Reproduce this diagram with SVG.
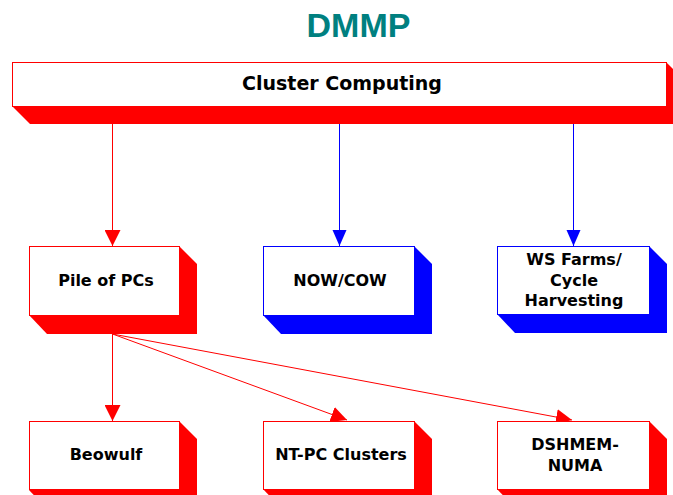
<svg xmlns="http://www.w3.org/2000/svg" width="673" height="495" viewBox="0 0 673 495">
<style>
.front{fill:#ffffff;stroke-width:1}
.r .front{stroke:#ff0000}
.b .front{stroke:#0000ff}
.r .sh{fill:#ff0000}
.b .sh{fill:#0000ff}
.lbl{font-family:"DejaVu Sans","Noto Sans",sans-serif;font-weight:bold;font-size:16px;fill:#000000;text-anchor:middle}
.title{font-family:"Liberation Sans",Arial,sans-serif;font-weight:bold;font-size:34px;fill:#008080;text-anchor:middle}
.cr{stroke:#ff0000;stroke-width:1;fill:none;marker-end:url(#ar)}
.cb{stroke:#0000ff;stroke-width:1;fill:none;marker-end:url(#ab)}
</style>
<defs>
<marker id="ar" markerUnits="userSpaceOnUse" markerWidth="16" markerHeight="16" viewBox="0 0 16 16" refX="16" refY="8" orient="auto"><path d="M0,0 L16,8 L0,16 z" fill="#ff0000"/></marker>
<marker id="ab" markerUnits="userSpaceOnUse" markerWidth="16" markerHeight="16" viewBox="0 0 16 16" refX="16" refY="8" orient="auto"><path d="M0,1 L16,8 L0,15 z" fill="#0000ff"/></marker>
</defs>
<text class="title" x="358.5" y="37">DMMP</text>
<g id="connectors">
<line class="cr" x1="112.5" y1="124" x2="112.5" y2="246"/>
<line class="cb" x1="339.5" y1="124" x2="339.5" y2="246"/>
<line class="cb" x1="573.5" y1="124" x2="573.5" y2="246"/>
<line class="cr" x1="112.5" y1="334" x2="112.5" y2="421"/>
<line class="cr" x1="112.5" y1="334" x2="347" y2="420"/>
<line class="cr" x1="112.5" y1="334" x2="572" y2="420"/>
</g>
<g id="cluster" class="r">
<polygon class="sh" points="12,106 30,124 684,124 684,80 666,62"/>
<rect class="front" x="12.5" y="62.5" width="654" height="44"/>
<text class="lbl" x="342" y="90" style="font-size:19px">Cluster Computing</text>
</g>
<g id="pile" class="r">
<polygon class="sh" points="29,315 47,334 197,334 197,264 179,246"/>
<rect class="front" x="29.5" y="246.5" width="150" height="69"/>
<text class="lbl" x="106" y="286">Pile of PCs</text>
</g>
<g id="now" class="b">
<polygon class="sh" points="263,315 281,334 432,334 432,264 414,246"/>
<rect class="front" x="263.5" y="246.5" width="151" height="69"/>
<text class="lbl" x="340" y="286">NOW/COW</text>
</g>
<g id="ws" class="b">
<polygon class="sh" points="497,314 515,333 667,333 667,264 649,246"/>
<rect class="front" x="497.5" y="246.5" width="152" height="68"/>
<text class="lbl" x="574" y="265">WS Farms/</text>
<text class="lbl" x="574" y="286">Cycle</text>
<text class="lbl" x="574" y="306">Harvesting</text>
</g>
<g id="beowulf" class="r">
<polygon class="sh" points="29,490 47,509 197,509 197,439 179,421"/>
<rect class="front" x="29.5" y="421.5" width="150" height="68"/>
<text class="lbl" x="106" y="460">Beowulf</text>
</g>
<g id="ntpc" class="r">
<polygon class="sh" points="263,489 281,508 432,508 432,439 414,421"/>
<rect class="front" x="263.5" y="421.5" width="151" height="68"/>
<text class="lbl" x="341" y="460">NT-PC Clusters</text>
</g>
<g id="dshmem" class="r">
<polygon class="sh" points="497,489 515,508 667,508 667,439 649,421"/>
<rect class="front" x="497.5" y="421.5" width="152" height="68"/>
<text class="lbl" x="575" y="450">DSHMEM-</text>
<text class="lbl" x="575" y="471">NUMA</text>
</g>
</svg>
